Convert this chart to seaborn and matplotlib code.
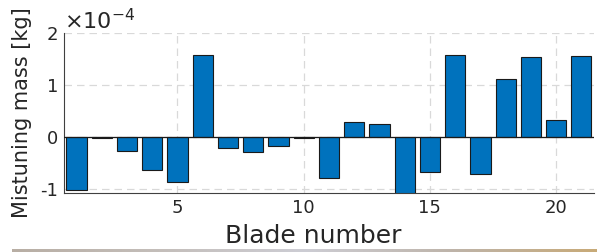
import matplotlib
matplotlib.use("Agg")
import matplotlib.pyplot as plt
import numpy as np
import pandas as pd
import seaborn as sns

# mistuning mass per blade, in units of 1e-4 kg
blades = list(range(1, 22))
mass_e4 = [-1.03, -0.02, -0.28, -0.63, -0.86, 1.58, -0.22, -0.29, -0.18, -0.02,
           -0.79, 0.28, 0.24, -1.12, -0.67, 1.57, -0.72, 1.12, 1.53, 0.32, 1.56]

xticks = [5, 10, 15, 20]
yticks = [-1, 0, 1, 2]

df = pd.DataFrame({"blade": blades, "mass": mass_e4})

sns.set_theme(style="white")
plt.rcParams["font.family"] = ["DejaVu Sans"]

fig = plt.figure(figsize=(5.97, 2.52), dpi=100)
ax = fig.add_axes([0.107, 0.234, 0.888, 0.635])

sns.barplot(data=df, x="blade", y="mass", native_scale=True, color="#0072BD",
            saturation=1, width=0.8, edgecolor="#1a1a1a", linewidth=0.8, ax=ax)

ax.set_xlim(0.5, 21.5)
ax.set_ylim(-1.08, 2)
ax.set_xticks(xticks)
ax.set_yticks(yticks)
ax.set_yticklabels([str(t) for t in yticks])
ax.grid(True, ls=(0, (6, 4)), color="#d9d9d9", lw=0.9)
ax.set_axisbelow(True)
ax.axhline(0, color="#1a1a1a", lw=0.9, zorder=3)

for s in ["top", "right"]:
    ax.spines[s].set_visible(False)
for s in ["left", "bottom"]:
    ax.spines[s].set_color("#404040")
    ax.spines[s].set_linewidth(0.8)

ax.tick_params(direction="in", length=4, width=0.8, color="#404040",
               labelsize=13, labelcolor="#262626", pad=4)
ax.set_xlabel("Blade number", fontsize=18, color="#262626")
ax.xaxis.set_label_coords(0.47, -0.195)
ax.set_ylabel("Mistuning mass [kg]", fontsize=15, color="#262626", labelpad=6)
ax.text(0.0, 1.0, r"$\times10^{\mathregular{-4}}$", transform=ax.transAxes,
        fontsize=16, color="#262626", ha="left", va="bottom")

# thin gradient strip along the bottom edge
strip = fig.add_axes([12 / 597, 0, 585 / 597, 3 / 252])
cols = np.array([[184, 174, 164], [196, 190, 186], [205, 205, 212],
                 [190, 180, 170], [200, 170, 120]]) / 255.0
xs = np.linspace(0, 1, 300)
grad = np.stack([np.interp(xs, np.linspace(0, 1, len(cols)), cols[:, i]) for i in range(3)], axis=-1)
strip.imshow(grad[None, :, :], aspect="auto")
strip.axis("off")

fig.savefig("out.png", dpi=100)
